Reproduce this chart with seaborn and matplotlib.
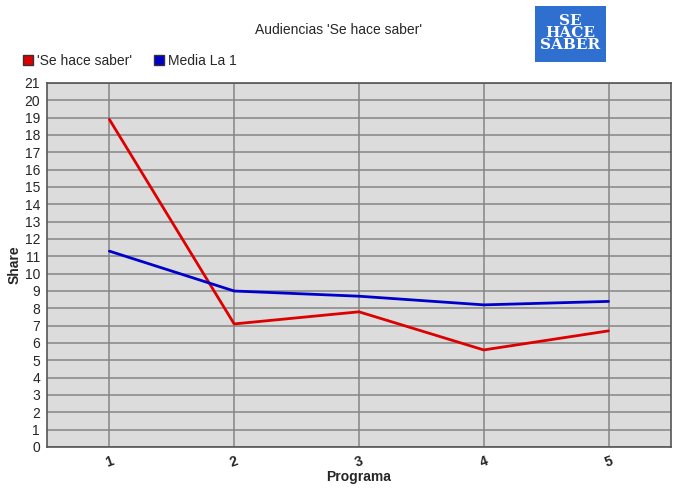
import matplotlib
matplotlib.use("Agg")
import matplotlib.pyplot as plt
import seaborn as sns
import pandas as pd
from matplotlib.lines import Line2D

programas = [1, 2, 3, 4, 5]
se_hace_saber = [18.9, 7.1, 7.8, 5.6, 6.7]
media_la1 = [11.3, 9.0, 8.7, 8.2, 8.4]
series_names = ["'Se hace saber'", "Media La 1"]
colors = ["#dd0000", "#0000cc"]

df = pd.DataFrame({
    "Programa": programas * 2,
    "Share": se_hace_saber + media_la1,
    "Serie": [series_names[0]] * 5 + [series_names[1]] * 5,
})

sns.set_style("whitegrid")
plt.rcParams["font.family"] = ["Liberation Sans", "DejaVu Sans"]

fig = plt.figure(figsize=(6.77, 5), dpi=100)
ax = fig.add_axes([0.0694, 0.106, 0.9216, 0.728])
ax.set_facecolor("#dcdcdc")

sns.lineplot(data=df, x="Programa", y="Share", hue="Serie",
             palette=colors, linewidth=2, ax=ax, legend=False)

ax.set_xlim(0.5, 5.5)
ax.set_ylim(0, 21)
ax.set_xticks(programas)
ax.set_yticks(range(0, 22))
ax.tick_params(axis="x", rotation=20, labelsize=10, length=4, color="#555555", pad=1)
ax.tick_params(axis="y", labelsize=10, length=4, color="#555555", pad=1)
for lab in ax.get_xticklabels():
    lab.set_fontweight("bold")
ax.grid(True, color="#858585", linewidth=1.1)
for s in ax.spines.values():
    s.set_color("#555555")
    s.set_linewidth(1.2)

ax.set_xlabel("Programa", fontsize=10, fontweight="bold", labelpad=0)
ax.set_ylabel("Share", fontsize=10, fontweight="bold", labelpad=2)

fig.text(0.5, 0.94, "Audiencias 'Se hace saber'", ha="center", va="center", fontsize=10)

handles = [Line2D([], [], marker="s", linestyle="none", markersize=7,
                  markerfacecolor=c, markeredgecolor="#333333") for c in colors]
fig.legend(handles, series_names, loc="center left", bbox_to_anchor=(0.014, 0.878),
           ncol=2, frameon=False, fontsize=10, handletextpad=0.3, columnspacing=1.5,
           handlelength=0.8)

# logo del programa
logo = fig.add_axes([535 / 677, 1 - 62 / 500, 71 / 677, 56 / 500])
logo.set_facecolor("#2f6fd0")
logo.set_xticks([])
logo.set_yticks([])
for s in logo.spines.values():
    s.set_visible(False)
logo.text(0.5, 0.52, "SE\nHACE\nSABER", ha="center", va="center", color="white",
          fontsize=11, fontweight="bold", linespacing=0.8, family="DejaVu Serif")

fig.savefig("out.png", dpi=100)
